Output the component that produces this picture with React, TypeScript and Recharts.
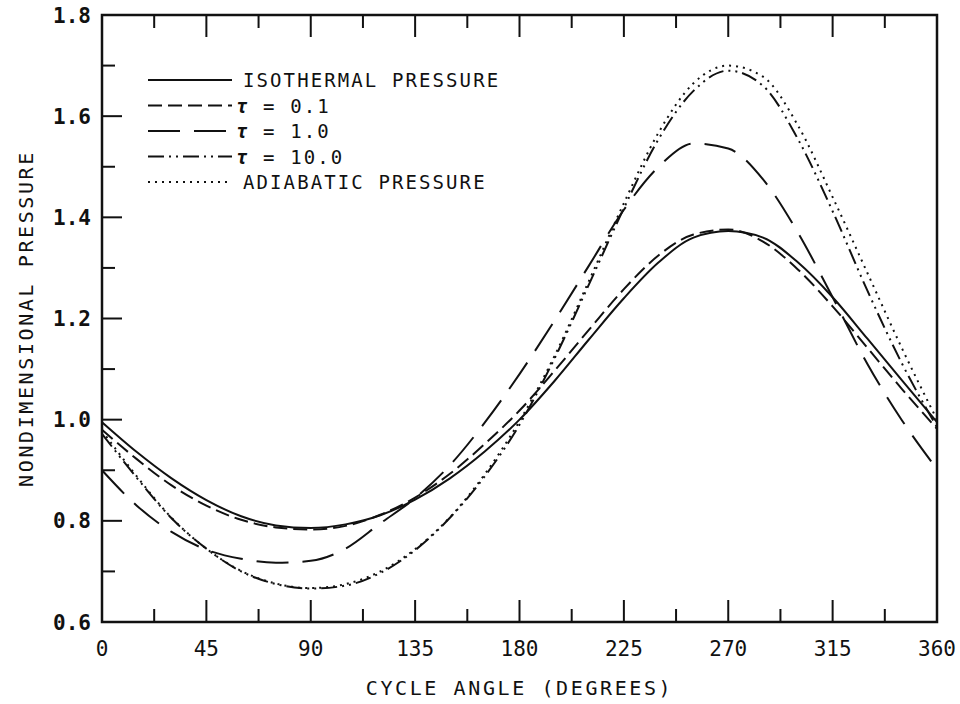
import React from 'react';
import { LineChart, Line, XAxis, YAxis, ReferenceArea } from 'recharts';

// cycle angle (degrees), sampled every 15
const angles = [0, 15, 30, 45, 60, 75, 90, 105, 120, 135, 150, 165, 180, 195, 210, 225, 240, 255, 270, 285, 300, 315, 330, 345, 360];

const isothermal = [0.995, 0.936, 0.884, 0.841, 0.809, 0.791, 0.786, 0.793, 0.811, 0.842, 0.884, 0.937, 1.0, 1.076, 1.159, 1.24, 1.311, 1.36, 1.373, 1.36, 1.311, 1.242, 1.16, 1.077, 0.995];
const tau01 = [0.98, 0.922, 0.87, 0.83, 0.802, 0.787, 0.783, 0.79, 0.812, 0.846, 0.893, 0.952, 1.018, 1.096, 1.178, 1.258, 1.325, 1.366, 1.376, 1.352, 1.297, 1.224, 1.142, 1.06, 0.982];
const tau1 = [0.9, 0.83, 0.778, 0.743, 0.725, 0.717, 0.721, 0.745, 0.795, 0.845, 0.91, 0.994, 1.09, 1.195, 1.305, 1.415, 1.5, 1.546, 1.536, 1.475, 1.37, 1.242, 1.11, 0.998, 0.902];
const tau10 = [0.972, 0.885, 0.805, 0.745, 0.7, 0.675, 0.666, 0.672, 0.697, 0.742, 0.806, 0.888, 0.99, 1.12, 1.268, 1.418, 1.555, 1.65, 1.69, 1.66, 1.555, 1.412, 1.255, 1.11, 0.985];
const adiabatic = [0.978, 0.888, 0.806, 0.745, 0.701, 0.676, 0.667, 0.675, 0.7, 0.744, 0.807, 0.892, 0.997, 1.125, 1.275, 1.428, 1.568, 1.665, 1.7, 1.678, 1.582, 1.44, 1.29, 1.14, 1.0];

const xTicks = [0, 22.5, 45, 67.5, 90, 112.5, 135, 157.5, 180, 202.5, 225, 247.5, 270, 292.5, 315, 337.5, 360];
const yTicks = [0.6, 0.7, 0.8, 0.9, 1.0, 1.1, 1.2, 1.3, 1.4, 1.5, 1.6, 1.7, 1.8];

const series = [
  { key: 'iso', name: 'ISOTHERMAL PRESSURE', values: isothermal, dash: undefined as string | undefined },
  { key: 't01', name: 'τ = 0.1', values: tau01, dash: '14 6' },
  { key: 't1', name: 'τ = 1.0', values: tau1, dash: '32 14' },
  { key: 't10', name: 'τ = 10.0', values: tau10, dash: '16 5 2 5 2 5' },
  { key: 'adi', name: 'ADIABATIC PRESSURE', values: adiabatic, dash: '2 5' },
];

const data = angles.map((a, i) => {
  const row: Record<string, number> = { angle: a };
  series.forEach((s) => (row[s.key] = s.values[i]));
  return row;
});

const FONT = '"DejaVu Sans Mono", monospace';
const INK = '#111';

const isMajorX = (v: number) => v % 45 === 0;
const isMajorY = (v: number) => Math.round(v * 10) % 2 === 0;

const BottomTick = ({ x, y, payload }: any) => {
  const major = isMajorX(payload.value);
  return (
    <g>
      <line x1={x} y1={y} x2={x} y2={y - (major ? 22 : 13)} stroke={INK} strokeWidth={2} />
      {major && (
        <text x={x} y={y + 34} textAnchor="middle" fontFamily={FONT} fontSize={21} fill={INK}>
          {payload.value}
        </text>
      )}
    </g>
  );
};

const TopTick = ({ x, y, payload }: any) => (
  <line x1={x} y1={y} x2={x} y2={y + (isMajorX(payload.value) ? 22 : 13)} stroke={INK} strokeWidth={2} />
);

const LeftTick = ({ x, y, payload }: any) => {
  const major = isMajorY(payload.value);
  return (
    <g>
      <line x1={x} y1={y} x2={x + (major ? 20 : 13)} y2={y} stroke={INK} strokeWidth={2} />
      {major && (
        <text x={x - 11} y={y + 7.5} textAnchor="end" fontFamily={FONT} fontSize={21} fontWeight="bold" fill={INK}>
          {payload.value.toFixed(1)}
        </text>
      )}
    </g>
  );
};

const RightTick = ({ x, y, payload }: any) => (
  <line x1={x} y1={y} x2={x - (isMajorY(payload.value) ? 20 : 13)} y2={y} stroke={INK} strokeWidth={2} />
);

const axisLine = { stroke: INK, strokeWidth: 2 };
const titleStyle = { fontFamily: FONT, fontSize: 20, letterSpacing: 2.6, fill: INK, textAnchor: 'middle' as const };

export default function App() {
  return (
    <div style={{ position: 'absolute', left: 0, top: 0, width: 960, height: 704, background: '#fff' }}>
      <LineChart width={960} height={704} data={data} margin={{ top: 14, right: 22, bottom: 0, left: 0 }}>
        {/* plot frame */}
        <ReferenceArea
          xAxisId="b"
          yAxisId="l"
          x1={0}
          x2={360}
          y1={0.6}
          y2={1.8}
          fill="none"
          fillOpacity={0}
          stroke={INK}
          strokeWidth={2.5}
          strokeOpacity={1}
          ifOverflow="visible"
        />
        <XAxis
          xAxisId="b"
          dataKey="angle"
          type="number"
          domain={[0, 360]}
          ticks={xTicks}
          interval={0}
          height={82}
          tickSize={0}
          tickMargin={0}
          tickLine={false}
          axisLine={axisLine}
          tick={<BottomTick />}
          label={{ value: 'CYCLE ANGLE (DEGREES)', position: 'insideBottom', offset: 9, style: titleStyle }}
        />
        <XAxis
          xAxisId="t"
          orientation="top"
          dataKey="angle"
          type="number"
          domain={[0, 360]}
          ticks={xTicks}
          interval={0}
          height={1}
          tickSize={0}
          tickMargin={0}
          tickLine={false}
          axisLine={false}
          tick={<TopTick />}
        />
        <YAxis
          yAxisId="l"
          type="number"
          domain={[0.6, 1.8]}
          ticks={yTicks}
          interval={0}
          width={102}
          tickSize={0}
          tickMargin={0}
          tickLine={false}
          axisLine={axisLine}
          tick={<LeftTick />}
          label={{ value: 'NONDIMENSIONAL PRESSURE', angle: -90, position: 'insideLeft', offset: 26, style: titleStyle }}
        />
        <YAxis
          yAxisId="r"
          orientation="right"
          type="number"
          domain={[0.6, 1.8]}
          ticks={yTicks}
          interval={0}
          width={1}
          tickSize={0}
          tickMargin={0}
          tickLine={false}
          axisLine={false}
          tick={<RightTick />}
        />
        {series.map((s) => (
          <Line
            key={s.key}
            xAxisId="b"
            yAxisId="l"
            dataKey={s.key}
            name={s.name}
            type="monotone"
            stroke={INK}
            strokeWidth={2}
            strokeDasharray={s.dash}
            dot={false}
            isAnimationActive={false}
          />
        ))}
      </LineChart>

      {/* legend, drawn inside the plot frame like the original plotter output */}
      <svg width={420} height={140} style={{ position: 'absolute', left: 140, top: 60 }}>
        {series.map((s, i) => {
          const cy = 20 + i * 25.5;
          const tau = s.name.startsWith('τ');
          return (
            <g key={s.key}>
              <line x1={8} y1={cy} x2={92} y2={cy} stroke={INK} strokeWidth={2} strokeDasharray={s.dash} />
              <text x={tau ? 96 : 103} y={cy + 7} fontFamily={FONT} fontSize={19} letterSpacing={2.1} fill={INK}>
                {tau ? (
                  <>
                    <tspan fontStyle="italic" fontWeight="bold">τ</tspan>
                    {s.name.slice(1)}
                  </>
                ) : (
                  s.name
                )}
              </text>
            </g>
          );
        })}
      </svg>
    </div>
  );
}
